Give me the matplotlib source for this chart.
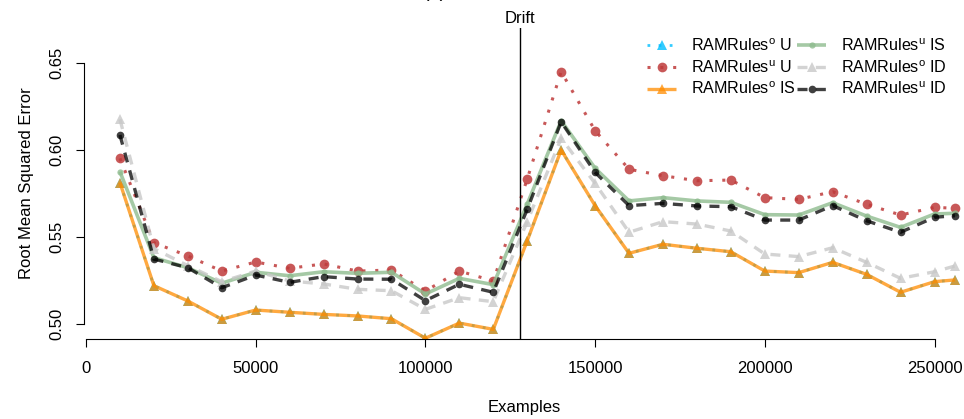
import matplotlib
matplotlib.use("Agg")
import matplotlib.pyplot as plt

plt.rcParams['font.family'] = ['Liberation Sans', 'DejaVu Sans']
plt.rcParams['mathtext.fontset'] = 'custom'
plt.rcParams['mathtext.rm'] = 'Liberation Sans'
plt.rcParams['mathtext.it'] = 'Liberation Sans:italic'
plt.rcParams['mathtext.bf'] = 'Liberation Sans:bold'

examples = [10000, 20000, 30000, 40000, 50000, 60000, 70000, 80000, 90000, 100000,
            110000, 120000, 130000, 140000, 150000, 160000, 170000, 180000, 190000,
            200000, 210000, 220000, 230000, 240000, 250000, 256000]

o_U = [0.5814, 0.5222, 0.5134, 0.5029, 0.5082, 0.5069, 0.5057, 0.5048, 0.5032, 0.4920,
       0.5007, 0.4971, 0.5480, 0.6002, 0.5682, 0.5408, 0.5460, 0.5437, 0.5417,
       0.5306, 0.5297, 0.5356, 0.5287, 0.5184, 0.5245, 0.5255]
u_U = [0.5954, 0.5469, 0.5393, 0.5306, 0.5358, 0.5322, 0.5347, 0.5306, 0.5312, 0.5191,
       0.5306, 0.5249, 0.5835, 0.6452, 0.6113, 0.5891, 0.5854, 0.5825, 0.5829,
       0.5728, 0.5718, 0.5762, 0.5690, 0.5628, 0.5672, 0.5667]
o_IS = [0.5814, 0.5222, 0.5134, 0.5029, 0.5082, 0.5069, 0.5057, 0.5048, 0.5032, 0.4920,
        0.5007, 0.4971, 0.5480, 0.6002, 0.5682, 0.5408, 0.5460, 0.5437, 0.5417,
        0.5306, 0.5297, 0.5356, 0.5287, 0.5184, 0.5245, 0.5255]
u_IS = [0.5877, 0.5383, 0.5325, 0.5236, 0.5299, 0.5279, 0.5302, 0.5293, 0.5299, 0.5174,
        0.5264, 0.5228, 0.5691, 0.6170, 0.5897, 0.5709, 0.5728, 0.5709, 0.5701,
        0.5630, 0.5628, 0.5699, 0.5622, 0.5557, 0.5634, 0.5638]
o_ID = [0.6178, 0.5435, 0.5337, 0.5245, 0.5306, 0.5249, 0.5232, 0.5201, 0.5193, 0.5086,
        0.5153, 0.5130, 0.5590, 0.6069, 0.5810, 0.5529, 0.5590, 0.5576, 0.5536,
        0.5404, 0.5389, 0.5440, 0.5356, 0.5264, 0.5302, 0.5335]
u_ID = [0.6088, 0.5375, 0.5325, 0.5210, 0.5283, 0.5241, 0.5274, 0.5260, 0.5259, 0.5136,
        0.5230, 0.5184, 0.5661, 0.6164, 0.5873, 0.5682, 0.5695, 0.5680, 0.5676,
        0.5599, 0.5599, 0.5682, 0.5595, 0.5529, 0.5615, 0.5624]

labels = [r'RAMRules$^\mathrm{o}$ U', r'RAMRules$^\mathrm{u}$ U', r'RAMRules$^\mathrm{o}$ IS',
          r'RAMRules$^\mathrm{u}$ IS', r'RAMRules$^\mathrm{o}$ ID', r'RAMRules$^\mathrm{u}$ ID']
drift_at = 128000
x_ticks = [0, 50000, 100000, 150000, 200000, 250000]
y_ticks = [0.50, 0.55, 0.60, 0.65]

W, H = 964, 419
fig = plt.figure(figsize=(W / 100, H / 100), dpi=100)
left, right, top, bottom = 84, 964, 28, 339
ax = fig.add_axes([left / W, 1 - bottom / H, (right - left) / W, (bottom - top) / H])

styles = [
    dict(color='#00BFFF', ls=(0, (1, 3)), lw=2.0, marker='^', ms=7, alpha=0.8),
    dict(color='#BF3B3B', ls=(0, (1, 3.2)), lw=2.2, marker='o', ms=7, alpha=0.85),
    dict(color='#FF8C00', ls='-', lw=2.4, marker='^', ms=7, alpha=0.75),
    dict(color='#8FBC8F', ls='-', lw=2.6, marker='o', ms=4.5, alpha=0.8),
    dict(color='#C8C8C8', ls=(0, (3, 2.5)), lw=2.4, marker='^', ms=7, alpha=0.8),
    dict(color='#000000', ls=(0, (3, 2.5)), lw=2.4, marker='o', ms=5.5, alpha=0.75),
]
series = [o_U, u_U, o_IS, u_IS, o_ID, u_ID]
handles = []
for s, st, lab in zip(series, styles, labels):
    h, = ax.plot(examples, s, color=st['color'], linestyle=st['ls'], lw=st['lw'],
                 marker=st['marker'], ms=st['ms'], alpha=st['alpha'],
                 markeredgewidth=0, label=lab, solid_capstyle='butt', dash_capstyle='butt')
    handles.append(h)

x_px_per = 169.7 / 50000.0
xmin = (left - 86) / x_px_per
xmax = (right - 86) / x_px_per
ax.set_xlim(xmin, xmax)
y_px_per = 87.0 / 0.05
ymin = 0.50 - (bottom - 324.3) / y_px_per
ymax = 0.50 + (324.3 - top) / y_px_per
ax.set_ylim(ymin, ymax)

ax.axvline(drift_at, color='black', lw=1.0)
ax.text(drift_at, ymax + 0.001, 'Drift', ha='center', va='bottom', fontsize=12,
        transform=ax.transData, clip_on=False)

for sp in ['top', 'right']:
    ax.spines[sp].set_visible(False)
ax.spines['left'].set_bounds(y_ticks[0], y_ticks[-1])
ax.spines['bottom'].set_bounds(x_ticks[0], x_ticks[-1])
ax.set_xticks(x_ticks)
ax.set_xticklabels([str(t) for t in x_ticks])
ax.set_yticks(y_ticks)
ax.set_yticklabels(['%.2f' % t for t in y_ticks], rotation=90, va='center')
ax.tick_params(axis='x', direction='out', length=6, width=0.8, labelsize=12, pad=10)
ax.tick_params(axis='y', direction='out', length=6, width=0.8, labelsize=12, pad=8)
ax.set_xlabel('Examples', fontsize=12, labelpad=17)
ax.set_ylabel('Root Mean Squared Error', fontsize=12, labelpad=11)

leg = ax.legend(handles=handles, loc='upper right', bbox_to_anchor=(958 / W, 1 - 26 / H),
                bbox_transform=fig.transFigure, ncol=2, frameon=False, fontsize=11.6,
                handlelength=1.8, handletextpad=0.9, columnspacing=0.1, labelspacing=0.32,
                borderpad=0.2)

fig.text(435 / W, 1 + 3 / H, '(a)', ha='center', va='baseline', fontsize=14)

fig.savefig('out.png', dpi=100)
